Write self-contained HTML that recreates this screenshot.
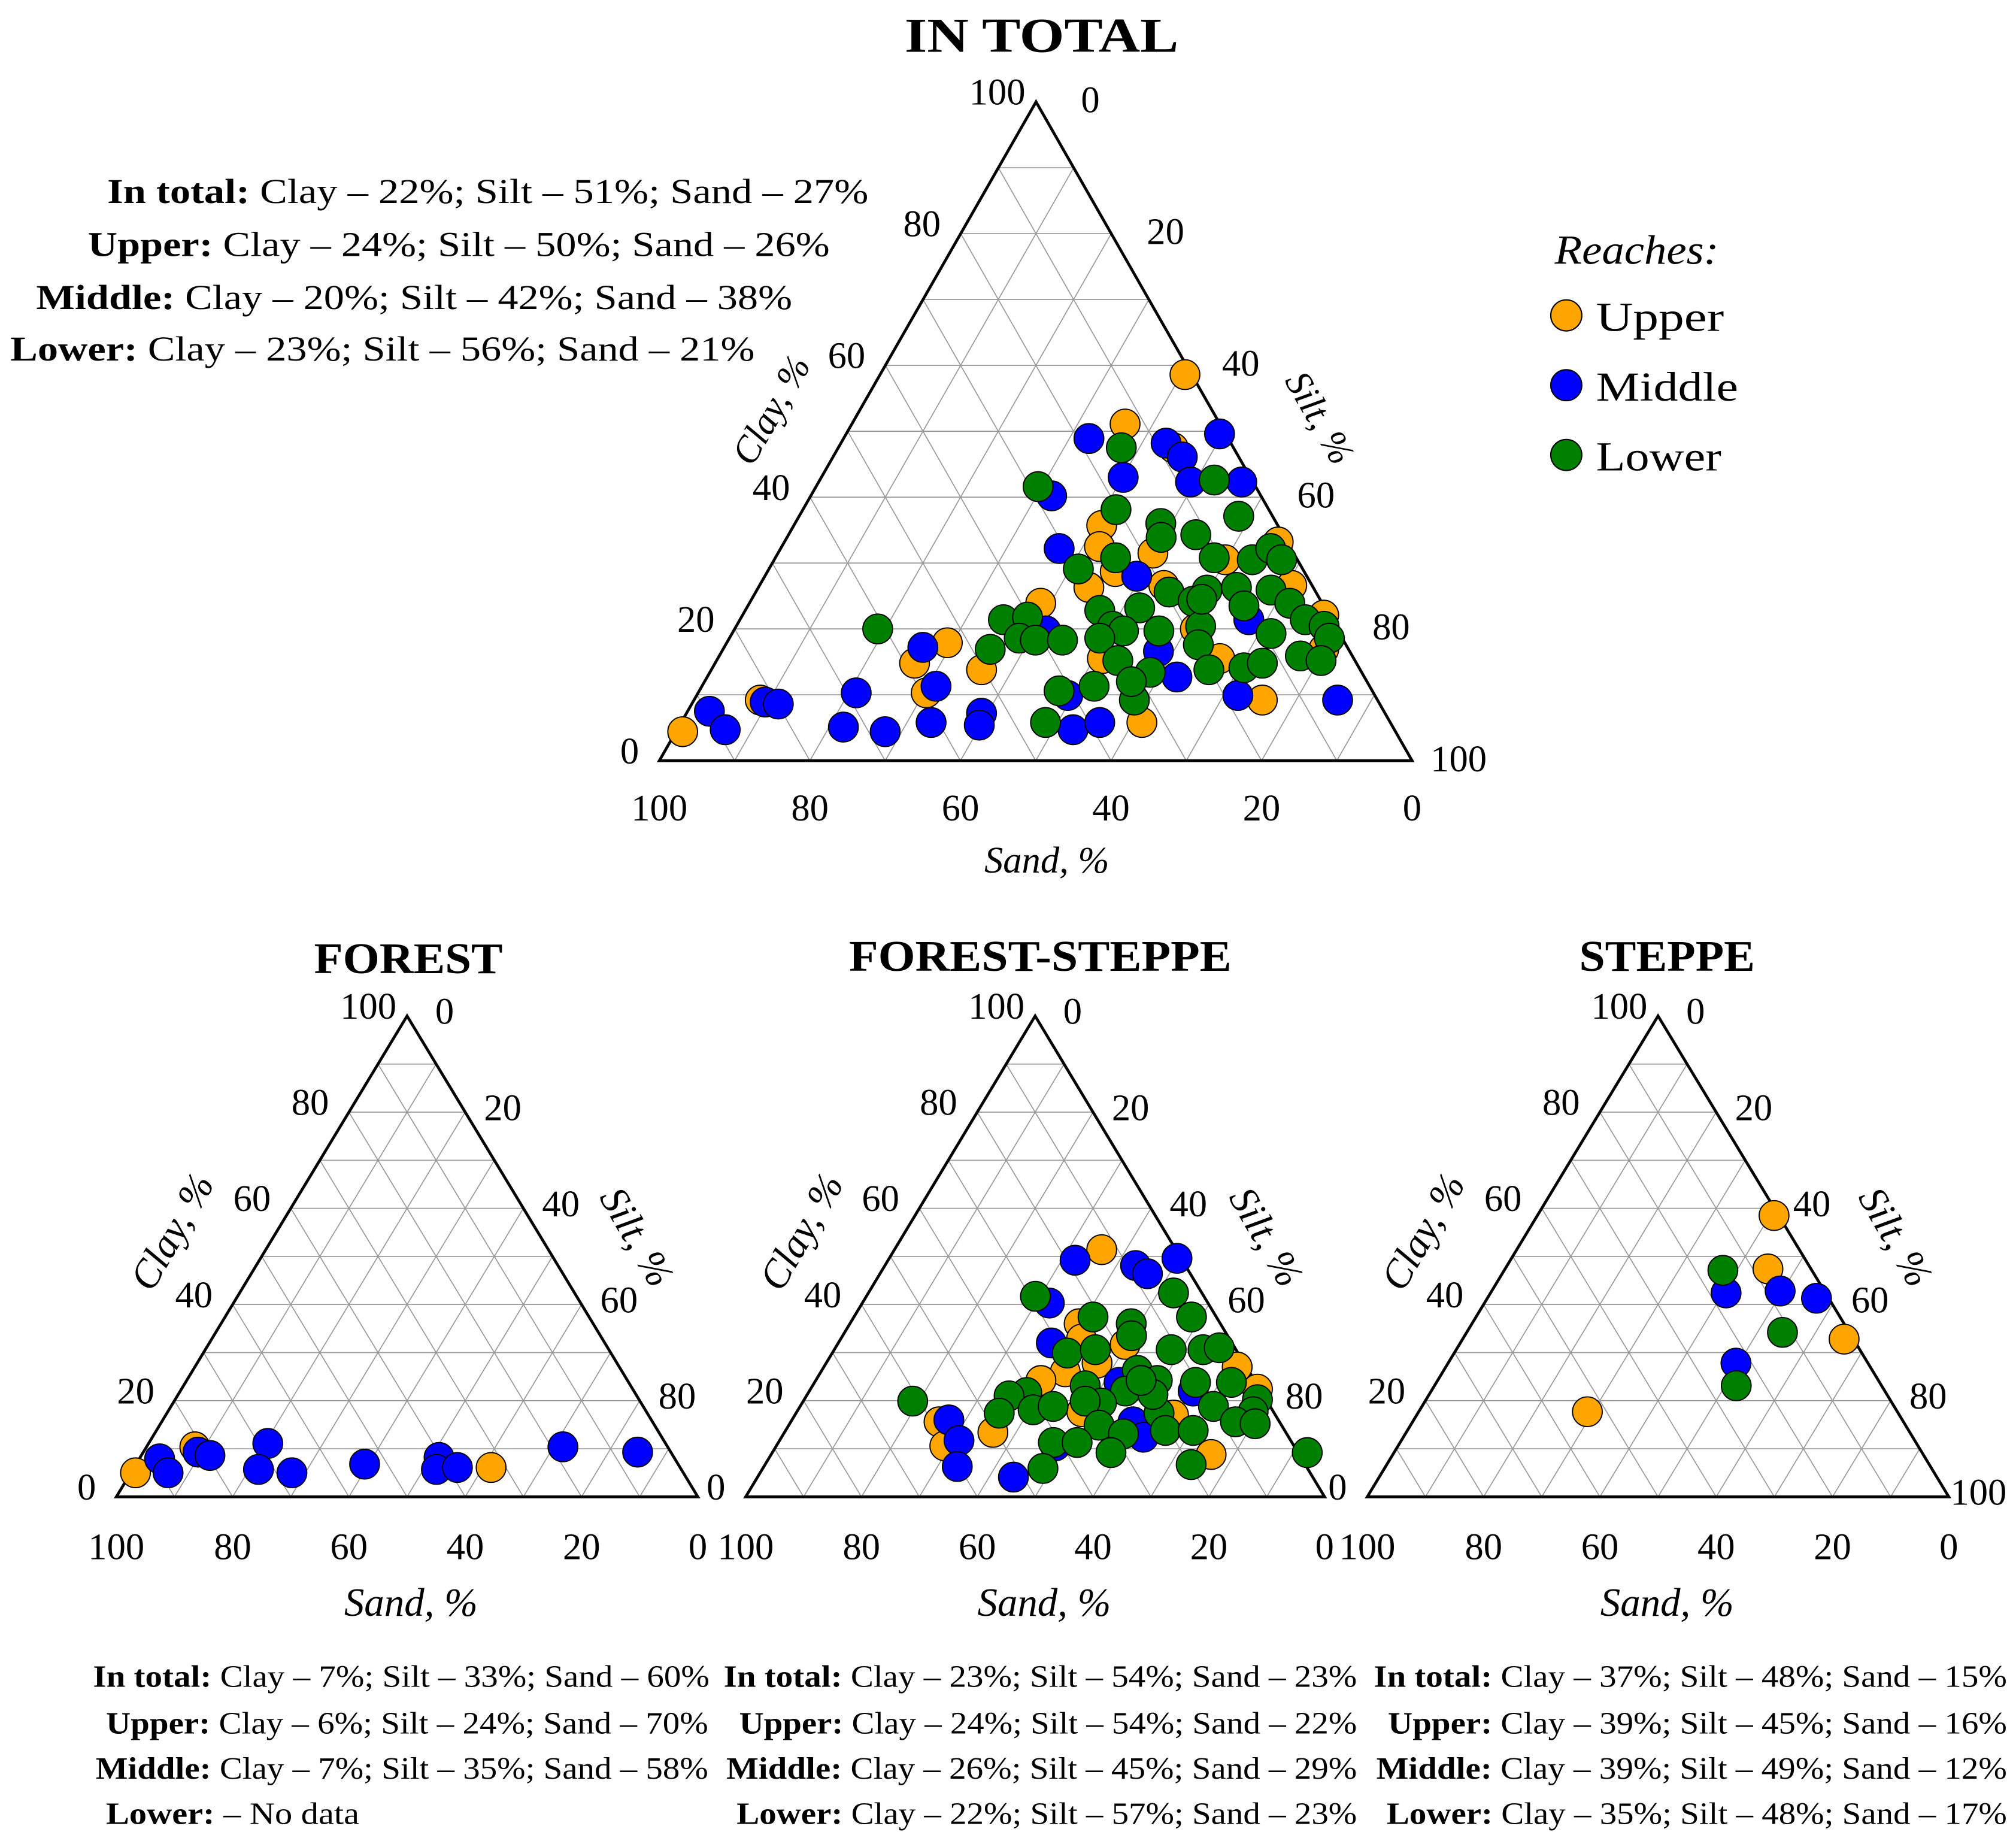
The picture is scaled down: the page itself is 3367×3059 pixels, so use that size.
<!DOCTYPE html>
<html><head><meta charset="utf-8"><style>
html,body{margin:0;padding:0;background:#fff;}
svg{display:block;font-family:"Liberation Serif",serif;}
</style></head><body>
<svg id="chart" xmlns="http://www.w3.org/2000/svg" width="3367" height="3059" viewBox="0 0 1560 1417.3" preserveAspectRatio="none">
<g id="texts">
<text x="700" y="40" textLength="212" lengthAdjust="spacingAndGlyphs" font-weight="bold" font-size="38">IN TOTAL</text>
<g font-size="27">
<text x="83" y="157" textLength="589" lengthAdjust="spacingAndGlyphs"><tspan font-weight="bold">In total:</tspan> Clay – 22%; Silt – 51%; Sand – 27%</text>
<text x="68" y="198" textLength="574" lengthAdjust="spacingAndGlyphs"><tspan font-weight="bold">Upper:</tspan> Clay – 24%; Silt – 50%; Sand – 26%</text>
<text x="28" y="239" textLength="585" lengthAdjust="spacingAndGlyphs"><tspan font-weight="bold">Middle:</tspan> Clay – 20%; Silt – 42%; Sand – 38%</text>
<text x="8" y="279" textLength="576" lengthAdjust="spacingAndGlyphs"><tspan font-weight="bold">Lower:</tspan> Clay – 23%; Silt – 56%; Sand – 21%</text>
</g>
<g>
<text x="1203" y="204" textLength="127" lengthAdjust="spacingAndGlyphs" font-style="italic" font-size="32">Reaches:</text>
<circle cx="1212" cy="244" r="12" fill="#FFA500" stroke="#000" stroke-width="1"/>
<text x="1235" y="256" textLength="99" lengthAdjust="spacingAndGlyphs" font-size="32">Upper</text>
<circle cx="1212" cy="298" r="12" fill="#0000FF" stroke="#000" stroke-width="1"/>
<text x="1235" y="310" textLength="110" lengthAdjust="spacingAndGlyphs" font-size="32">Middle</text>
<circle cx="1212" cy="352" r="12" fill="#008000" stroke="#000" stroke-width="1"/>
<text x="1235" y="364" textLength="97" lengthAdjust="spacingAndGlyphs" font-size="32">Lower</text>
</g>
<text x="243" y="753" textLength="146" lengthAdjust="spacingAndGlyphs" font-weight="bold" font-size="34">FOREST</text>
<text x="657" y="751" textLength="296" lengthAdjust="spacingAndGlyphs" font-weight="bold" font-size="34">FOREST-STEPPE</text>
<text x="1222" y="751" textLength="136" lengthAdjust="spacingAndGlyphs" font-weight="bold" font-size="34">STEPPE</text>
<g font-size="24">
<text x="72" y="1305" textLength="477" lengthAdjust="spacingAndGlyphs"><tspan font-weight="bold">In total:</tspan> Clay – 7%; Silt – 33%; Sand – 60%</text>
<text x="82" y="1341" textLength="466" lengthAdjust="spacingAndGlyphs"><tspan font-weight="bold">Upper:</tspan> Clay – 6%; Silt – 24%; Sand – 70%</text>
<text x="74" y="1376" textLength="474" lengthAdjust="spacingAndGlyphs"><tspan font-weight="bold">Middle:</tspan> Clay – 7%; Silt – 35%; Sand – 58%</text>
<text x="82" y="1411" textLength="196" lengthAdjust="spacingAndGlyphs"><tspan font-weight="bold">Lower:</tspan>  – No data</text>
</g>
<g font-size="24">
<text x="560" y="1305" textLength="490" lengthAdjust="spacingAndGlyphs"><tspan font-weight="bold">In total:</tspan> Clay – 23%; Silt – 54%; Sand – 23%</text>
<text x="572" y="1341" textLength="478" lengthAdjust="spacingAndGlyphs"><tspan font-weight="bold">Upper:</tspan> Clay – 24%; Silt – 54%; Sand – 22%</text>
<text x="562" y="1376" textLength="488" lengthAdjust="spacingAndGlyphs"><tspan font-weight="bold">Middle:</tspan> Clay – 26%; Silt – 45%; Sand – 29%</text>
<text x="570" y="1411" textLength="480" lengthAdjust="spacingAndGlyphs"><tspan font-weight="bold">Lower:</tspan> Clay – 22%; Silt – 57%; Sand – 23%</text>
</g>
<g font-size="24">
<text x="1063" y="1305" textLength="490" lengthAdjust="spacingAndGlyphs"><tspan font-weight="bold">In total:</tspan> Clay – 37%; Silt – 48%; Sand – 15%</text>
<text x="1074" y="1341" textLength="479" lengthAdjust="spacingAndGlyphs"><tspan font-weight="bold">Upper:</tspan> Clay – 39%; Silt – 45%; Sand – 16%</text>
<text x="1065" y="1376" textLength="488" lengthAdjust="spacingAndGlyphs"><tspan font-weight="bold">Middle:</tspan> Clay – 39%; Silt – 49%; Sand – 12%</text>
<text x="1073" y="1411" textLength="480" lengthAdjust="spacingAndGlyphs"><tspan font-weight="bold">Lower:</tspan> Clay – 35%; Silt – 48%; Sand – 17%</text>
</g>
</g>
</svg>
<script>
// ---- data (clay %, silt %) ----
const mainUpperClay=[58.6,51.1,35.7,32.5,31.5,33.2,30.5,28.7,26.3,26.6,22.1,16.9,23.9,17.9,14.8,10.3,13.8,9.2,4.4,15.5,9.2,5.8,20.0,15.5,26.6,47.5];
const mainUpperSilt=[40.5,36.3,40.9,42.2,49.8,65.6,59.9,46.2,43.9,70.7,77.2,79.8,38.7,29.3,26.5,30.3,35.9,8.8,0.9,51.1,75.5,61.2,61.2,66.7,53.7,44.5];
const mainMiddleClay=[48.9,48.2,46.1,49.6,43.0,42.3,42.3,40.2,32.2,28.0,21.4,16.6,12.7,9.9,9.2,17.2,11.3,10.3,8.9,8.6,7.5,4.7,5.1,4.4,5.8,7.2,5.4,9.9,4.7,5.8,19.7];
const mainMiddleSilt=[32.6,43.2,46.4,49.6,40.1,49.4,56.2,32.0,37.0,49.4,67.6,58.0,62.4,71.9,85.5,26.4,31.1,21.0,9.6,11.5,2.9,6.4,21.9,27.8,33.2,39.2,39.8,49.3,52.6,55.6,41.5];
const mainLowerClay=[47.5,41.6,42.6,38.1,37.1,36.0,33.9,34.3,30.8,29.1,30.8,30.5,32.2,30.5,25.6,24.2,25.9,26.3,25.9,23.2,23.5,23.9,21.4,22.8,20.4,19.7,19.7,20.4,19.3,20.4,18.6,18.6,21.4,21.8,18.6,18.3,18.3,16.9,20.0,15.2,13.4,17.6,13.8,14.1,14.8,15.9,15.2,10.6,11.3,9.2,5.8,24.5,12.0];
const mainLowerSilt=[37.6,29.5,52.4,41.6,58.4,48.6,49.7,54.1,45.2,41.1,58.3,63.5,65.1,67.4,54.9,58.8,59.8,63.5,68.3,52.2,65.9,71.8,75.1,47.1,50.0,51.8,56.5,61.7,71.6,78.1,79.7,49.2,35.0,38.0,38.5,40.8,44.4,35.5,19.0,53.3,58.5,62.8,66.1,70.6,72.7,77.2,80.3,47.8,52.1,58.5,48.4,59.8,56.7];

const forestUpperClay=[5.0,10.4,6.1];
const forestUpperSilt=[0.8,8.3,61.4];
const forestMiddleClay=[7.9,5.0,9.3,8.6,11.1,5.7,5.0,6.8,8.2,5.7,6.1,10.4,9.3];
const forestMiddleSilt=[3.5,6.4,9.4,11.8,20.5,21.6,27.7,39.3,51.4,52.2,55.6,71.6,85.0];
const forestLowerClay=[];
const forestLowerSilt=[];

const fsUpperClay=[51.4,36.0,32.8,31.7,27.8,26.0,24.2,22.4,27.0,15.6,10.6,13.4,8.8,17.0,17.7];
const fsUpperSilt=[35.8,39.6,41.6,49.7,46.8,42.2,38.9,77.2,71.4,25.6,29.1,36.0,76.0,65.4,49.2];
const fsMiddleClay=[49.2,48.1,46.4,49.6,40.3,32.0,23.8,22.0,15.6,12.4,16.0,11.7,6.3,4.1,10.6];
const fsMiddleSilt=[32.3,43.3,46.2,49.7,32.3,36.8,52.6,66.3,59.1,62.5,27.1,31.0,33.4,44.2,48.2];
const fsLowerClay=[41.7,42.4,37.4,37.4,36.0,33.5,29.9,30.6,30.6,30.6,31.0,26.3,24.2,23.8,23.8,22.0,23.1,20.2,17.7,18.8,17.4,19.5,19.9,21.7,21.0,18.1,18.8,17.4,19.9,13.8,13.8,15.6,15.2,14.9,13.1,11.3,11.3,9.2,5.9,6.7,9.2,21.3,24.2];
const fsLowerSilt=[29.2,52.7,41.3,58.3,48.6,49.9,40.6,45.1,58.2,63.7,66.3,54.5,59.0,65.8,72.0,54.6,47.1,78.3,78.8,71.4,62.7,51.7,48.7,37.7,35.0,40.6,43.7,35.1,18.9,65.6,70.4,76.8,80.4,53.6,58.7,47.5,51.6,58.5,48.4,73.6,92.4,59.7,56.2];

const stUpperClay=[58.5,47.4,32.8,17.7];
const stUpperSilt=[40.7,45.2,65.6,29.0];
const stMiddleClay=[42.4,42.8,41.3,27.8];
const stMiddleSilt=[40.5,49.6,56.6,49.5];
const stLowerClay=[47.1,34.2,23.1];
const stLowerSilt=[37.6,54.3,51.9];

const tickValues=[0,20,40,60,80,100];
const COLORS={upper:'#FFA500',middle:'#0000FF',lower:'#008000'};
const NS='http://www.w3.org/2000/svg';
const svg=document.getElementById('chart');

function mk(tag,attrs,parent){const e=document.createElementNS(NS,tag);for(const k in attrs)e.setAttribute(k,attrs[k]);(parent||svg).appendChild(e);return e;}

function ternary(name,T,fs,tfs,rad,opts,series){
  const g=mk('g',{});
  
  
  const P=(c,s)=>{const sa=100-c-s;return [(sa*T.L[0]+s*T.R[0]+c*T.A[0])/100,(sa*T.L[1]+s*T.R[1]+c*T.A[1])/100];};
  const grid=mk('g',{stroke:'#9a9a9a','stroke-width':'0.8',fill:'none'},g);
  
  
  for(let v=10;v<100;v+=10){
    let a=P(v,0),b=P(v,100-v);
    mk('line',{x1:a[0],y1:a[1],x2:b[0],y2:b[1]},grid);
    a=P(0,v);b=P(100-v,v);
    mk('line',{x1:a[0],y1:a[1],x2:b[0],y2:b[1]},grid);
    a=P(0,100-v);b=P(100-v,0);
    mk('line',{x1:a[0],y1:a[1],x2:b[0],y2:b[1]},grid);
  }
  const tri=mk('polygon',{points:[T.L,T.R,T.A].map(p=>p.join(',')).join(' '),fill:'none',stroke:'#000','stroke-width':'2.2'},g);
  
  
  const ticks=mk('g',{'font-size':fs,'text-anchor':'middle'},g);
  
  
  tickValues.forEach(v=>{
    let p=P(v,0);
    const lx=v===0?opts.lo[0]+7:opts.lo[0];
    let t=mk('text',{x:p[0]+lx,y:p[1]+opts.lo[1]+fs*0.35},ticks);t.textContent=v;
    
    
    if(!(v===100&&opts.hideSilt100)){
      p=P(100-v,v);
      const rx=v===100?opts.ro[0]-6:opts.ro[0];
      t=mk('text',{x:p[0]+rx,y:p[1]+opts.ro[1]+fs*0.35},ticks);t.textContent=v;
      
      
    }
    p=P(0,100-v);
    t=mk('text',{x:p[0],y:p[1]+opts.bo+fs*0.35},ticks);t.textContent=v;
    
    
  });
  let t=mk('text',{x:opts.clay[0],y:opts.clay[1],'font-size':tfs,'font-style':'italic','text-anchor':'middle',transform:'rotate(-60 '+opts.clay[0]+' '+opts.clay[1]+')'},g);
  t.textContent='Clay, %';
  
  
  t=mk('text',{x:opts.silt[0],y:opts.silt[1],'font-size':tfs,'font-style':'italic','text-anchor':'middle',transform:'rotate(60 '+opts.silt[0]+' '+opts.silt[1]+')'},g);
  t.textContent='Silt, %';
  
  
  t=mk('text',{x:opts.sand[0],y:opts.sand[1],'font-size':tfs,'font-style':'italic','text-anchor':'middle'},g);
  t.textContent='Sand, %';
  
  
  series.forEach(sr=>{
    const sg=mk('g',{fill:COLORS[sr.key],stroke:'#000','stroke-width':'0.9'},g);
    
    
    sr.clay.forEach((c,i)=>{
      const p=P(c,sr.silt[i]);
      const ci=mk('circle',{cx:p[0],cy:p[1],r:rad},sg);
      
      
    });
  });
}

ternary('main',{L:[510.2,588.5],R:[1092.7,588.5],A:[801.7,78.8]},29,29,11.5,
  {lo:[-30,-8],ro:[42,-2],bo:36,clay:[605,322],silt:[1013,328],sand:[810,675]},
  [{key:'upper',clay:mainUpperClay,silt:mainUpperSilt},{key:'middle',clay:mainMiddleClay,silt:mainMiddleSilt},{key:'lower',clay:mainLowerClay,silt:mainLowerSilt}]);
ternary('forest',{L:[90,1158],R:[540,1158],A:[315,786]},29,31,11.5,
  {lo:[-30,-8],ro:[29,-4],bo:38,hideSilt100:true,clay:[142,958],silt:[484,962],sand:[318,1250]},
  [{key:'upper',clay:forestUpperClay,silt:forestUpperSilt},{key:'middle',clay:forestMiddleClay,silt:forestMiddleSilt},{key:'lower',clay:forestLowerClay,silt:forestLowerSilt}]);
ternary('forest-steppe',{L:[577,1158],R:[1025,1158],A:[801,786]},29,31,11.5,
  {lo:[-30,-8],ro:[29,-4],bo:38,hideSilt100:true,clay:[629,958],silt:[971,962],sand:[808,1250]},
  [{key:'upper',clay:fsUpperClay,silt:fsUpperSilt},{key:'middle',clay:fsMiddleClay,silt:fsMiddleSilt},{key:'lower',clay:fsLowerClay,silt:fsLowerSilt}]);
ternary('steppe',{L:[1058,1158],R:[1508,1158],A:[1283,786]},29,31,11.5,
  {lo:[-30,-8],ro:[29,-4],bo:38,clay:[1110,958],silt:[1458,962],sand:[1290,1250]},
  [{key:'upper',clay:stUpperClay,silt:stUpperSilt},{key:'middle',clay:stMiddleClay,silt:stMiddleSilt},{key:'lower',clay:stLowerClay,silt:stLowerSilt}]);
</script>
</body></html>
